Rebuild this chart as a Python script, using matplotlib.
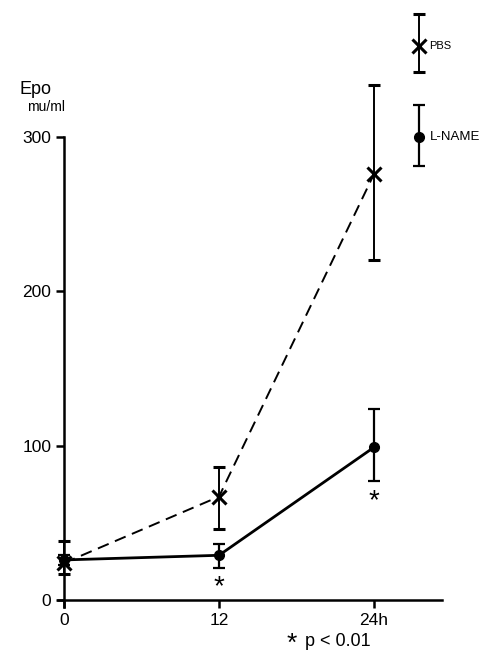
import matplotlib.pyplot as plt

plt.rcParams['font.family'] = ['Liberation Sans', 'DejaVu Sans']

hours = [0, 12, 24]
pbs_mean = [24, 67, 276]
pbs_upper = [38, 86, 334]
pbs_lower = [17, 46, 220]
lname_mean = [26, 29, 99]
lname_upper = [29, 36, 124]
lname_lower = [23, 21, 77]
signif = [False, True, True]
y_ticks = [0, 100, 200, 300]
x_ticks = [0, 12, 24]
x_labels = ['0', '12', '24h']

fig = plt.figure(figsize=(4.98, 6.58), dpi=100)
ax = fig.add_axes([0.1165, 0.0775, 0.771, 0.7143])
ax.set_xlim(-0.46, 29.26)
ax.set_ylim(-4.5, 300)

def err(mean, lo, hi):
    return [[m - l for m, l in zip(mean, lo)], [h - m for m, h in zip(mean, hi)]]

ax.errorbar(hours, pbs_mean, yerr=err(pbs_mean, pbs_lower, pbs_upper),
            color='black', ls='--', dashes=(6, 3.5), lw=1.4, marker='x', ms=10, mew=2.2,
            capsize=4.5, elinewidth=1.4, capthick=1.4, clip_on=False, zorder=3)
ax.errorbar(hours, lname_mean, yerr=err(lname_mean, lname_lower, lname_upper),
            color='black', ls='-', lw=2, marker='o', ms=7,
            capsize=4.5, elinewidth=1.6, capthick=1.6, clip_on=False, zorder=4)

for h, lo, s in zip(hours, lname_lower, signif):
    if s:
        ax.annotate('*', (h, lo), xytext=(0, -5), textcoords='offset points',
                    ha='center', va='top', fontsize=20)

# legend drawn as standalone error bars above the plot
ax.errorbar([27.5], [359], yerr=[[17], [21]], color='black', marker='x', ms=10, mew=2.2,
            capsize=4.5, elinewidth=1.4, capthick=1.4, clip_on=False)
ax.text(28.3, 359, 'PBS', fontsize=8, va='center', ha='left')
ax.errorbar([27.5], [300], yerr=[[19], [21]], color='black', marker='o', ms=7,
            capsize=4.5, elinewidth=1.6, capthick=1.6, clip_on=False)
ax.text(28.3, 300, 'L-NAME', fontsize=9.5, va='center', ha='left')

for s in ['top', 'right']:
    ax.spines[s].set_visible(False)
ax.spines['left'].set_position(('data', 0))
ax.spines['bottom'].set_position(('data', 0))
ax.spines['left'].set_linewidth(1.8)
ax.spines['bottom'].set_linewidth(1.8)
ax.set_yticks(y_ticks)
ax.set_xticks(x_ticks)
ax.set_xticklabels(x_labels)
ax.tick_params(axis='both', direction='out', length=6, width=1.8, labelsize=12.5, pad=3)

fig.text(0.040, 0.851, 'Epo', fontsize=13, ha='left', va='bottom')
fig.text(0.054, 0.826, 'mu/ml', fontsize=10, ha='left', va='bottom')
fig.text(0.586, 0.003, '*', fontsize=19, ha='center', va='bottom')
fig.text(0.612, 0.012, 'p < 0.01', fontsize=13, ha='left', va='bottom')

fig.savefig('out.png', dpi=100)
